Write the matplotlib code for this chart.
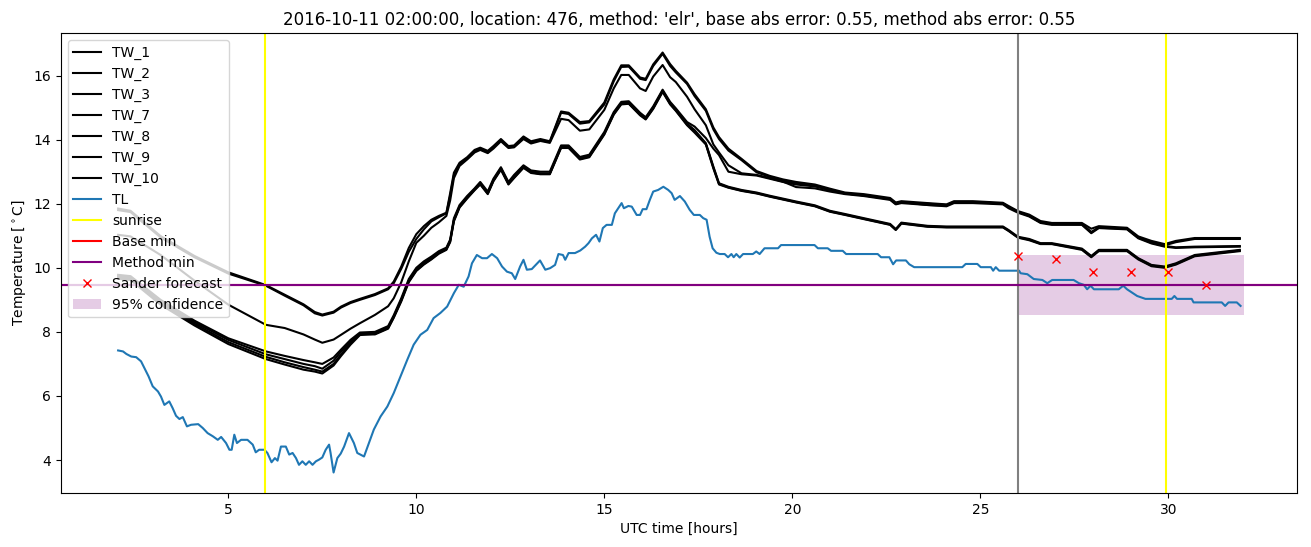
import numpy as np
import matplotlib
matplotlib.use('Agg')
import matplotlib.pyplot as plt

# horas (UTC) comuns para as series TW
tw_hours = [2.07, 2.4, 3.2, 4.1, 5.0, 6.0, 6.5, 7.0, 7.3, 7.5,
            7.8, 8.0, 8.25, 8.5, 8.9, 9.25, 9.4, 9.6, 9.8, 10.0,
            10.2, 10.4, 10.6, 10.8, 10.9, 11.0, 11.15, 11.35, 11.55, 11.7,
            11.9, 12.05, 12.25, 12.45, 12.6, 12.85, 13.05, 13.3, 13.55, 13.85,
            14.05, 14.35, 14.6, 15.0, 15.25, 15.45, 15.65, 15.95, 16.1, 16.3,
            16.55, 16.75, 16.9, 17.2, 17.4, 17.7, 17.9, 18.05, 18.3, 18.65,
            19.05, 19.4, 19.75, 20.1, 20.6, 21.0, 21.4, 21.9, 22.6, 22.75,
            22.9, 23.6, 24.1, 24.3, 24.8, 25.6, 25.75, 26.0, 26.3, 26.6,
            26.9, 27.7, 27.95, 28.15, 28.9, 29.2, 29.55, 29.9, 30.2, 30.7,
            31.9]

tw_1 = [11.85, 11.78, 10.99, 10.37, 9.86, 9.46, 9.16, 8.86, 8.62, 8.54,
        8.63, 8.79, 8.93, 9.03, 9.18, 9.36, 9.57, 10.04, 10.62, 11.05,
        11.3, 11.5, 11.62, 11.72, 12.33, 12.97, 13.28, 13.45, 13.68, 13.75,
        13.65, 13.8, 14.02, 13.8, 13.82, 14.1, 13.95, 14.02, 13.95, 14.88,
        14.84, 14.55, 14.58, 15.16, 15.88, 16.32, 16.32, 15.94, 15.9, 16.35,
        16.72, 16.36, 16.15, 15.78, 15.42, 14.95, 14.38, 14.08, 13.72, 13.4,
        13.02, 12.87, 12.76, 12.68, 12.6, 12.47, 12.35, 12.3, 12.18, 12.04,
        12.08, 12.02, 11.98, 12.08, 12.08, 12.03, 11.93, 11.77, 11.66, 11.46,
        11.4, 11.4, 11.22, 11.3, 11.25, 10.98, 10.84, 10.74, 10.84, 10.93,
        10.93]
tw_2 = [11.8, 11.74, 10.95, 10.33, 9.82, 9.44, 9.13, 8.83, 8.58, 8.51,
        8.6, 8.76, 8.9, 9.0, 9.15, 9.33, 9.52, 9.97, 10.5, 10.9,
        11.2, 11.45, 11.58, 11.7, 12.25, 12.9, 13.24, 13.4, 13.63, 13.72,
        13.6, 13.76, 13.98, 13.76, 13.78, 14.06, 13.92, 13.98, 13.92, 14.84,
        14.8, 14.5, 14.54, 15.1, 15.82, 16.27, 16.28, 15.9, 15.86, 16.3,
        16.68, 16.3, 16.1, 15.74, 15.36, 14.9, 14.32, 14.02, 13.66, 13.36,
        12.98, 12.84, 12.72, 12.64, 12.57, 12.44, 12.32, 12.26, 12.15, 12.0,
        12.05, 11.96, 11.94, 12.05, 12.05, 12.0, 11.9, 11.74, 11.63, 11.42,
        11.37, 11.36, 11.1, 11.27, 11.22, 10.95, 10.8, 10.7, 10.8, 10.9,
        10.9]
tw_3 = [11.03, 10.98, 10.4, 9.6, 8.85, 8.22, 8.12, 7.92, 7.76, 7.66,
        7.76, 7.91, 8.1, 8.27, 8.53, 8.8, 9.05, 9.55, 10.2, 10.78,
        11.0, 11.25, 11.42, 11.62, 12.1, 12.8, 13.18, 13.38, 13.6, 13.68,
        13.58, 13.72, 13.95, 13.74, 13.76, 14.02, 13.88, 13.96, 13.9, 14.65,
        14.61, 14.28, 14.32, 14.93, 15.6, 16.02, 16.02, 15.6, 15.52, 15.97,
        16.33, 15.95, 15.8, 15.34, 14.95, 14.45, 13.85, 13.6, 13.2, 12.95,
        12.9, 12.8, 12.69, 12.52, 12.48, 12.38, 12.3, 12.24, 12.12, 11.98,
        12.02, 11.96, 11.92, 12.02, 12.02, 11.98, 11.86, 11.72, 11.6, 11.4,
        11.34, 11.34, 11.08, 11.24, 11.2, 10.92, 10.76, 10.66, 10.62, 10.64,
        10.66]
tw_7 = [9.78, 9.74, 9.0, 8.35, 7.8, 7.39, 7.25, 7.12, 7.05, 7.0,
        7.2, 7.45, 7.75, 7.98, 8.0, 8.18, 8.52, 9.05, 9.65, 10.0,
        10.2, 10.35, 10.52, 10.63, 10.88, 11.55, 11.96, 12.24, 12.48, 12.68,
        12.38, 12.78, 13.14, 12.68, 12.9, 13.2, 13.04, 13.0, 13.0, 13.82,
        13.82, 13.46, 13.53, 14.24, 14.86, 15.18, 15.2, 14.84, 14.7, 15.04,
        15.56, 15.18, 14.98, 14.55, 14.41, 14.05, 13.72, 13.52, 13.0, 12.92,
        12.88, 12.78, 12.68, 12.6, 12.54, 12.42, 12.32, 12.26, 12.14, 12.0,
        12.04, 12.0, 11.96, 12.05, 12.05, 12.01, 11.9, 11.74, 11.62, 11.42,
        11.37, 11.37, 11.12, 11.25, 11.22, 10.94, 10.78, 10.68, 10.64, 10.66,
        10.68]
tw_8 = [9.74, 9.7, 8.95, 8.3, 7.75, 7.3, 7.15, 7.0, 6.93, 6.85,
        7.1, 7.39, 7.7, 7.95, 7.96, 8.14, 8.48, 9.0, 9.6, 9.95,
        10.15, 10.3, 10.48, 10.6, 10.85, 11.5, 11.92, 12.2, 12.45, 12.64,
        12.33, 12.74, 13.11, 12.64, 12.85, 13.16, 13.0, 12.95, 12.95, 13.78,
        13.78, 13.42, 13.49, 14.2, 14.82, 15.14, 15.15, 14.8, 14.67, 15.0,
        15.53, 15.14, 14.95, 14.5, 14.3, 13.89, 13.16, 12.64, 12.53, 12.43,
        12.35, 12.25, 12.16, 12.07, 11.95, 11.78, 11.68, 11.55, 11.37, 11.21,
        11.41, 11.31, 11.29, 11.29, 11.29, 11.29, 11.18, 10.97, 10.9, 10.77,
        10.77, 10.6, 10.37, 10.56, 10.56, 10.3, 10.09, 10.04, 10.14, 10.4,
        10.56]
tw_9 = [9.7, 9.66, 8.9, 8.25, 7.68, 7.22, 7.05, 6.9, 6.82, 6.76,
        7.0, 7.3, 7.65, 7.92, 7.92, 8.1, 8.44, 8.95, 9.55, 9.9,
        10.1, 10.26, 10.44, 10.56, 10.8, 11.45, 11.88, 12.16, 12.42, 12.6,
        12.3, 12.7, 13.06, 12.6, 12.8, 13.12, 12.96, 12.92, 12.92, 13.74,
        13.74, 13.38, 13.45, 14.16, 14.78, 15.1, 15.12, 14.76, 14.63, 14.96,
        15.49, 15.1, 14.9, 14.45, 14.22, 13.85, 13.1, 12.6, 12.5, 12.4,
        12.32, 12.22, 12.13, 12.04, 11.92, 11.75, 11.65, 11.52, 11.34, 11.18,
        11.38, 11.28, 11.26, 11.26, 11.26, 11.26, 11.15, 10.94, 10.86, 10.74,
        10.74, 10.56, 10.33, 10.52, 10.52, 10.26, 10.05, 10.0, 10.1, 10.36,
        10.52]
tw_10 = [9.66, 9.62, 8.85, 8.2, 7.62, 7.15, 6.98, 6.82, 6.76, 6.7,
         6.95, 7.25, 7.6, 7.9, 7.94, 8.12, 8.46, 8.98, 9.58, 9.92,
         10.12, 10.28, 10.46, 10.58, 10.82, 11.48, 11.9, 12.18, 12.44, 12.62,
         12.32, 12.72, 13.08, 12.62, 12.82, 13.14, 12.98, 12.93, 12.93, 13.76,
         13.76, 13.4, 13.47, 14.18, 14.8, 15.12, 15.13, 14.78, 14.65, 14.98,
         15.51, 15.12, 14.92, 14.47, 14.26, 13.87, 13.13, 12.62, 12.51, 12.41,
         12.33, 12.23, 12.14, 12.05, 11.93, 11.76, 11.66, 11.53, 11.35, 11.19,
         11.39, 11.29, 11.27, 11.27, 11.27, 11.27, 11.16, 10.95, 10.88, 10.75,
         10.75, 10.58, 10.35, 10.54, 10.54, 10.28, 10.07, 10.02, 10.12, 10.38,
         10.54]

# temperatura do ar (TL)
tl_hours = [2.07, 2.2, 2.29, 2.42, 2.55, 2.68, 2.77, 2.88, 2.99, 3.13,
            3.21, 3.3, 3.43, 3.52, 3.61, 3.7, 3.79, 3.9, 4.01, 4.2,
            4.32, 4.45, 4.59, 4.72, 4.81, 4.94, 5.03, 5.09, 5.16, 5.23,
            5.34, 5.51, 5.65, 5.73, 5.82, 5.96, 6.04, 6.15, 6.24, 6.31,
            6.4, 6.53, 6.62, 6.71, 6.8, 6.88, 6.97, 7.06, 7.15, 7.24,
            7.33, 7.41, 7.5, 7.59, 7.68, 7.72, 7.8, 7.9, 7.99, 8.08,
            8.21, 8.34, 8.43, 8.61, 8.74, 8.87, 9.05, 9.23, 9.4, 9.58,
            9.76, 9.93, 10.11, 10.29, 10.46, 10.64, 10.82, 11.0, 11.13, 11.26,
            11.39, 11.48, 11.61, 11.75, 11.88, 12.01, 12.15, 12.28, 12.41, 12.54,
            12.63, 12.76, 12.85, 12.94, 13.07, 13.29, 13.43, 13.56, 13.69, 13.78,
            13.9, 13.96, 14.05, 14.22, 14.36, 14.49, 14.58, 14.67, 14.78, 14.87,
            14.96, 15.06, 15.2, 15.28, 15.37, 15.46, 15.52, 15.64, 15.73, 15.86,
            15.95, 16.02, 16.12, 16.21, 16.3, 16.43, 16.57, 16.7, 16.79, 16.87,
            17.01, 17.14, 17.27, 17.38, 17.54, 17.63, 17.72, 17.8, 17.88, 17.98,
            18.07, 18.2, 18.29, 18.38, 18.44, 18.51, 18.6, 18.69, 18.95, 19.04,
            19.13, 19.26, 19.62, 19.7, 20.59, 20.68, 20.94, 21.03, 21.34, 21.43,
            22.27, 22.36, 22.58, 22.68, 22.76, 23.02, 23.11, 23.24, 24.52, 24.61,
            24.92, 25.01, 25.28, 25.34, 25.41, 25.5, 26.03, 26.07, 26.25, 26.42,
            26.65, 26.78, 26.91, 27.48, 27.62, 27.75, 27.84, 27.93, 28.02, 28.68,
            28.8, 28.9, 29.17, 29.39, 30.09, 30.16, 30.23, 30.62, 30.67, 31.42,
            31.51, 31.6, 31.82, 31.92]
tl_values = [7.42, 7.39, 7.31, 7.23, 7.21, 7.08, 6.87, 6.61, 6.3, 6.14,
             5.98, 5.72, 5.83, 5.62, 5.38, 5.28, 5.34, 5.05, 5.1, 5.12,
             5.0, 4.84, 4.74, 4.63, 4.72, 4.53, 4.32, 4.32, 4.79, 4.53,
             4.63, 4.63, 4.48, 4.24, 4.32, 4.32, 4.22, 3.93, 4.06, 3.98,
             4.42, 4.42, 4.17, 4.22, 4.06, 3.85, 3.96, 3.85, 3.96, 3.85,
             3.96, 4.01, 4.08, 4.32, 4.48, 4.22, 3.61, 4.06, 4.2, 4.42,
             4.84, 4.53, 4.22, 4.11, 4.53, 4.95, 5.36, 5.67, 6.09, 6.61,
             7.13, 7.6, 7.91, 8.06, 8.43, 8.59, 8.79, 9.21, 9.47, 9.41,
             9.73, 10.14, 10.4, 10.3, 10.3, 10.43, 10.3, 10.04, 9.88, 9.83,
             9.65, 10.04, 10.25, 9.94, 9.96, 10.23, 9.94, 9.99, 10.09, 10.43,
             10.4, 10.25, 10.46, 10.46, 10.54, 10.66, 10.77, 10.92, 11.03, 10.82,
             11.24, 11.34, 11.34, 11.7, 11.86, 12.02, 11.86, 11.93, 11.91, 11.65,
             11.65, 11.83, 11.83, 12.12, 12.38, 12.43, 12.53, 12.43, 12.33, 12.12,
             12.24, 12.07, 11.81, 11.65, 11.65, 11.55, 11.5, 10.97, 10.61, 10.47,
             10.43, 10.43, 10.33, 10.43, 10.33, 10.43, 10.32, 10.43, 10.43, 10.51,
             10.43, 10.61, 10.61, 10.71, 10.71, 10.61, 10.61, 10.53, 10.53, 10.43,
             10.43, 10.33, 10.33, 10.11, 10.23, 10.23, 10.11, 10.02, 10.02, 10.12,
             10.12, 10.02, 10.02, 9.91, 10.02, 9.91, 9.91, 9.83, 9.8, 9.65,
             9.62, 9.52, 9.62, 9.62, 9.52, 9.47, 9.33, 9.44, 9.33, 9.33,
             9.44, 9.33, 9.12, 9.03, 9.03, 9.12, 9.03, 9.03, 8.92, 8.92,
             8.81, 8.92, 8.92, 8.81]

# previsao (Sander) e minimos
sander_hours = [26, 27, 28, 29, 30, 31]
sander_values = [10.38, 10.29, 9.86, 9.86, 9.88, 9.46]
sunrise_hours = [5.98, 29.93]
forecast_start = 26
base_min = 9.46
method_min = 9.46
conf_hours = [26, 32]
conf_low = 8.54
conf_high = 10.4

tw_series = {'TW_1': tw_1, 'TW_2': tw_2, 'TW_3': tw_3, 'TW_7': tw_7,
             'TW_8': tw_8, 'TW_9': tw_9, 'TW_10': tw_10}

fig = plt.figure(figsize=(13.11, 5.47), dpi=100)
ax = fig.add_axes([0.0465, 0.0987, 0.9428, 0.841])

for nome, valores in tw_series.items():
    ax.plot(tw_hours, valores, color='black', label=nome)
ax.plot(tl_hours, tl_values, label='TL')

ax.axvline(sunrise_hours[0], color='yellow', label='sunrise')
ax.axvline(sunrise_hours[1], color='yellow')
ax.axvline(forecast_start, color='grey')
ax.axhline(base_min, color='red', label='Base min')
ax.axhline(method_min, color='purple', label='Method min')
ax.plot(sander_hours, sander_values, 'rx', label='Sander forecast')
ax.fill_between(conf_hours, [conf_low, conf_low], [conf_high, conf_high],
                color='purple', alpha=0.2, linewidth=0, label='95% confidence')

ax.set_xlim(0.55, 33.42)
ax.set_ylim(2.97, 17.33)
ax.set_title("2016-10-11 02:00:00, location: 476, method: 'elr', "
             "base abs error: 0.55, method abs error: 0.55")
ax.set_xlabel('UTC time [hours]')
ax.set_ylabel(r'Temperature [$^\circ$C]')
ax.legend(loc='upper left')

plt.savefig('out.png', dpi=100)
